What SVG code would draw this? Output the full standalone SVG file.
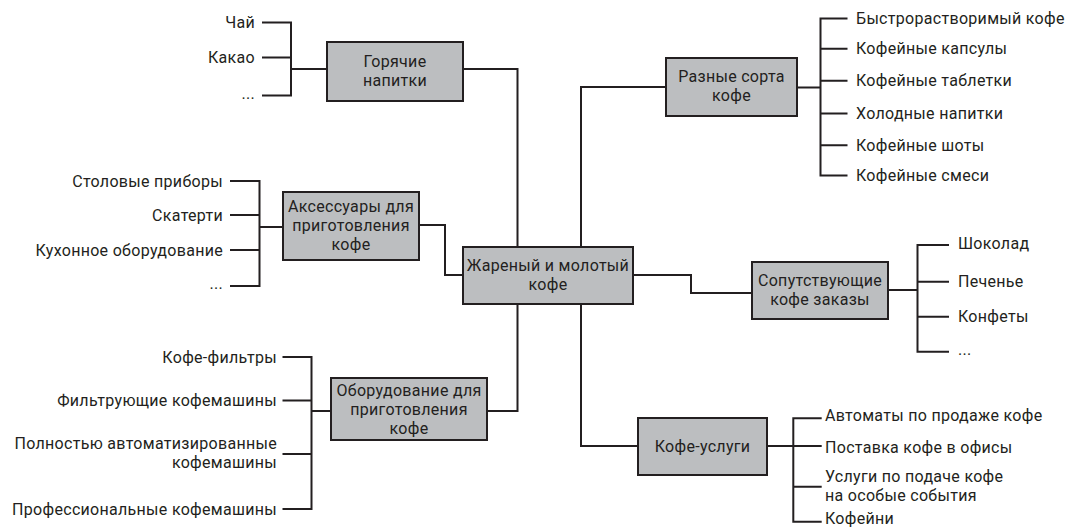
<svg xmlns="http://www.w3.org/2000/svg" width="1067" height="527" viewBox="0 0 1067 527">
<style>
.box{fill:#bcbec0;stroke:#231f20;stroke-width:2}
.ln{fill:none;stroke:#231f20;stroke-width:2}
text{font-family:Roboto,"Noto Sans",sans-serif;font-size:16px;letter-spacing:0.3px;fill:#231f20}
.c{text-anchor:middle}
.e{text-anchor:end}
</style>
<rect width="1067" height="527" fill="#ffffff"/>
<g id="connectors">
<path class="ln" d="M463,69 H517.5 V247"/>
<path class="ln" d="M419,225 H445 V275 H463"/>
<path class="ln" d="M487,411 H517.5 V304"/>
<path class="ln" d="M666,87 H581 V247"/>
<path class="ln" d="M633,275 H691 V293 H752"/>
<path class="ln" d="M638,446 H581 V304"/>
<path class="ln" d="M262,22.5 H291 V95.5 H262 M262,57.5 H291 M291,69 H327"/>
<path class="ln" d="M230,181 H259.5 V286 H230 M230,215 H259.5 M230,250 H259.5 M259.5,227 H283"/>
<path class="ln" d="M282.5,357 H311.5 V509 H282.5 M282.5,400.5 H311.5 M282.5,454 H311.5 M311.5,411 H331"/>
<path class="ln" d="M847.5,18.5 H820.5 V175.5 H847.5 M820.5,48.7 H847.5 M820.5,80.7 H847.5 M820.5,113.6 H847.5 M820.5,145.2 H847.5 M797,87.4 H820.5"/>
<path class="ln" d="M949,245 H917.5 V351.7 H949 M917.5,281.7 H949 M917.5,316.7 H949 M888,290 H917.5"/>
<path class="ln" d="M821.7,418.3 H793.3 V521.7 H821.7 M793.3,446 H821.7 M793.3,486.7 H821.7 M767,446 H793.3"/>
</g>
<g id="center">
<rect class="box" x="463" y="247" width="170" height="57"/>
<text class="c" x="548" y="271"><tspan x="548">Жареный и молотый</tspan><tspan x="548" dy="19">кофе</tspan></text>
</g>
<g id="hot">
<rect class="box" x="327" y="42" width="136" height="59"/>
<text class="c" x="395" y="67"><tspan x="395">Горячие</tspan><tspan x="395" dy="19">напитки</tspan></text>
</g>
<g id="hot-items">
<text class="e" x="255" y="28">Чай</text>
<text class="e" x="255" y="63">Какао</text>
<text class="e" x="255" y="99">...</text>
</g>
<g id="acc">
<rect class="box" x="283" y="192" width="136" height="68"/>
<text class="c" x="351" y="212"><tspan x="351">Аксессуары для</tspan><tspan x="351" dy="19">приготовления</tspan><tspan x="351" dy="19">кофе</tspan></text>
</g>
<g id="acc-items">
<text class="e" x="223" y="186.5">Столовые приборы</text>
<text class="e" x="223" y="220.5">Скатерти</text>
<text class="e" x="223" y="255.5">Кухонное оборудование</text>
<text class="e" x="223" y="289">...</text>
</g>
<g id="equip">
<rect class="box" x="331" y="378" width="156" height="62"/>
<text class="c" x="409" y="396"><tspan x="409">Оборудование для</tspan><tspan x="409" dy="19">приготовления</tspan><tspan x="409" dy="19">кофе</tspan></text>
</g>
<g id="equip-items">
<text class="e" x="277" y="362.5">Кофе-фильтры</text>
<text class="e" x="277" y="406">Фильтрующие кофемашины</text>
<text class="e" x="277" y="448.5"><tspan x="277">Полностью автоматизированные</tspan><tspan x="277" dy="19.5">кофемашины</tspan></text>
<text class="e" x="277" y="514.5">Профессиональные кофемашины</text>
</g>
<g id="sorts">
<rect class="box" x="666" y="58" width="131" height="58"/>
<text class="c" x="731.5" y="82"><tspan x="731.5">Разные сорта</tspan><tspan x="731.5" dy="19">кофе</tspan></text>
</g>
<g id="sorts-items">
<text x="856" y="24">Быстрорастворимый кофе</text>
<text x="856" y="54">Кофейные капсулы</text>
<text x="856" y="86">Кофейные таблетки</text>
<text x="856" y="119">Холодные напитки</text>
<text x="856" y="150.5">Кофейные шоты</text>
<text x="856" y="181">Кофейные смеси</text>
</g>
<g id="accomp">
<rect class="box" x="752" y="262" width="136" height="57"/>
<text class="c" x="820" y="286"><tspan x="820">Сопутствующие</tspan><tspan x="820" dy="19">кофе заказы</tspan></text>
</g>
<g id="accomp-items">
<text x="958" y="249">Шоколад</text>
<text x="958" y="287">Печенье</text>
<text x="958" y="322">Конфеты</text>
<text x="958" y="355">...</text>
</g>
<g id="services">
<rect class="box" x="638" y="418" width="129" height="57"/>
<text class="c" x="702.5" y="452">Кофе-услуги</text>
</g>
<g id="services-items">
<text x="825" y="421">Автоматы по продаже кофе</text>
<text x="825" y="453">Поставка кофе в офисы</text>
<text x="825" y="482"><tspan x="825">Услуги по подаче кофе</tspan><tspan x="825" dy="19">на особые события</tspan></text>
<text x="825" y="524">Кофейни</text>
</g>
</svg>
